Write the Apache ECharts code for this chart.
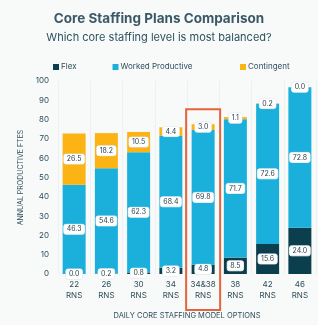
<!DOCTYPE html>
<html>
<head>
<meta charset="utf-8">
<script src="https://cdn.jsdelivr.net/npm/echarts@6/dist/echarts.min.js"></script>
<style>
  html, body { margin: 0; padding: 0; background: #f8fafa; }
  #chart { width: 318px; height: 325px; }
</style>
</head>
<body>
<div id="chart"></div>
<script>
// data
var categories = ["22\nRNS", "26\nRNS", "30\nRNS", "34\nRNS", "34&38\nRNS", "38\nRNS", "42\nRNS", "46\nRNS"];
var flex = [0.0, 0.2, 0.8, 3.2, 4.8, 8.5, 15.6, 24.0];
var worked = [46.3, 54.6, 62.3, 68.4, 69.8, 71.7, 72.6, 72.8];
var contingent = [26.5, 18.2, 10.5, 4.4, 3.0, 1.1, 0.2, 0.0];
var yTicks = [0, 10, 20, 30, 40, 50, 60, 70, 80, 90, 100];
var highlightIndex = 4;

var myChart = echarts.init(document.getElementById("chart"));
let fontColor = "#2f4d5a";

let labelStyle = {
  show: true,
  position: "inside",
  formatter: function (p) { return p.value.toFixed(1); },
  fontSize: 7,
  fontFamily: "Inter",
  color: "#1f3b47",
  backgroundColor: "#ffffff",
  borderColor: "#d8e2e6",
  borderWidth: 0.5,
  borderRadius: 2,
  padding: [2, 3, 1, 3],
};

let Data = [
  { name: "Flex", color: "#0b3f4d", data: flex },
  { name: "Worked Productive", color: "#1bafdc", data: worked },
  { name: "Contingent", color: "#fcb415", data: contingent },
];

let _seriesData = [];
Data.forEach((e) => {
  _seriesData.push({
    name: e.name,
    type: "bar",
    stack: "total",
    barWidth: 23,
    itemStyle: { color: e.color },
    label: labelStyle,
    data: e.data,
  });
});

let legendBase = {
  top: 58,
  icon: "rect",
  itemWidth: 6,
  itemHeight: 6,
  itemGap: 36,
  textStyle: { fontSize: 8, color: fontColor, fontFamily: "Inter", padding: [0, 0, 0, -3] },
};

var option = {
  backgroundColor: "#f8fafa",
  animation: false,
  title: [
    {
      text: "Core Staffing Plans Comparison",
      left: "center",
      top: 7,
      textStyle: { fontSize: 13.5, fontWeight: "bold", color: "#3b5866", fontFamily: "Inter" },
    },
    {
      text: "Which core staffing level is most balanced?",
      left: "center",
      top: 27,
      textStyle: { fontSize: 11, fontWeight: "normal", color: "#2c5260", fontFamily: "Inter" },
    },
  ],
  legend: [
    Object.assign({}, legendBase, { left: 48, data: ["Flex", "Worked Productive"] }),
    Object.assign({}, legendBase, { left: 235, data: ["Contingent"] }),
  ],
  grid: {
    left: 58,
    right: 2,
    top: 81,
    bottom: 48,
  },
  xAxis: {
    type: "category",
    data: categories,
    name: "DAILY CORE STAFFING MODEL OPTIONS",
    nameLocation: "middle",
    nameGap: 38,
    nameTextStyle: { fontSize: 7.5, color: fontColor, fontFamily: "Inter" },
    axisLine: { show: false },
    axisTick: { show: false },
    axisLabel: {
      interval: 0,
      color: fontColor,
      fontSize: 8,
      lineHeight: 11,
      margin: 5,
      fontFamily: "Inter",
    },
    splitLine: { show: true, interval: 0, lineStyle: { color: "#eef1f2", width: 1 } },
  },
  yAxis: {
    type: "value",
    min: yTicks[0],
    max: yTicks[yTicks.length - 1],
    interval: 10,
    name: "ANNUAL PRODUCTIVE FTES",
    nameLocation: "middle",
    nameRotate: 90,
    nameGap: 28,
    nameTextStyle: { fontSize: 7, color: fontColor, fontFamily: "Inter" },
    axisLine: { show: false },
    axisTick: { show: false },
    axisLabel: { color: fontColor, fontSize: 8, margin: 9, fontFamily: "Inter" },
    splitLine: { show: false },
  },
  series: _seriesData,
};

myChart.setOption(option);

// orange box around the highlighted option, placed from the axis scale
var topVal = flex[highlightIndex] + worked[highlightIndex] + contingent[highlightIndex];
var c = myChart.convertToPixel({ gridIndex: 0 }, [highlightIndex, topVal]);
var zero = myChart.convertToPixel({ gridIndex: 0 }, [highlightIndex, 0]);
myChart.setOption({
  graphic: [
    {
      type: "rect",
      z: 100,
      shape: { x: c[0] - 17, y: c[1] - 15, width: 34, height: zero[1] - c[1] + 51 },
      style: { fill: "none", stroke: "#e5643b", lineWidth: 2 },
    },
  ],
});

window.addEventListener("resize", function () {
  myChart.resize();
});
</script>
</body>
</html>
